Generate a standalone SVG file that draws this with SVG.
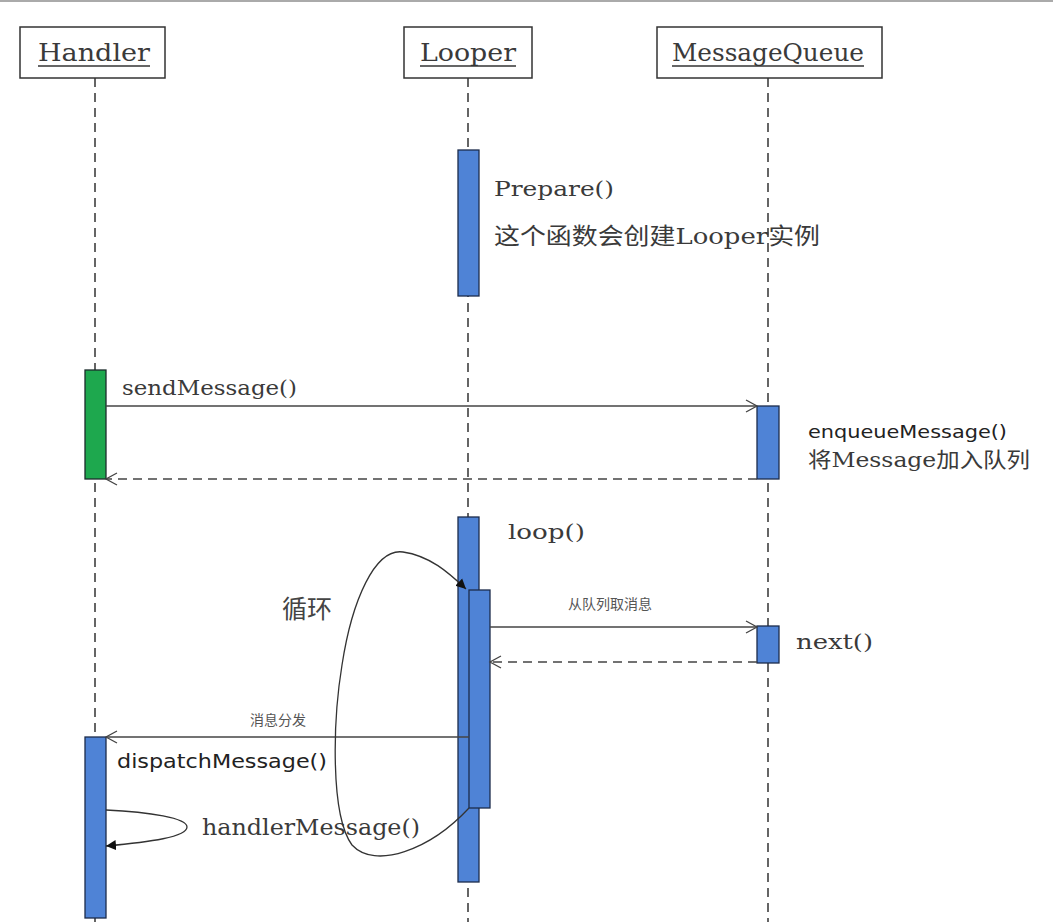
<svg xmlns="http://www.w3.org/2000/svg" width="1053" height="922" viewBox="0 0 1053 922">
<style>
.bg{fill:#ffffff}
.box{fill:#ffffff;stroke:#333;stroke-width:1.5}
.life{stroke:#333;stroke-width:1.5;stroke-dasharray:9,6;fill:none}
.act{fill:#4f83d6;stroke:#1c2c4c;stroke-width:1.3}
.actg{fill:#1ea84e;stroke:#1c2c2c;stroke-width:1.3}
.msg{stroke:#444;stroke-width:1.3;fill:none;marker-end:url(#open)}
.ret{stroke:#444;stroke-width:1.3;stroke-dasharray:9,6;fill:none;marker-end:url(#open)}
.curve{stroke:#333;stroke-width:1.3;fill:none;marker-end:url(#filled)}
.mono{font-family:"DejaVu Serif","Noto Sans CJK SC",serif;fill:#3a3a3a}
.sans{font-family:"DejaVu Sans","Noto Sans CJK SC",sans-serif;fill:#222}
.cjk{font-family:"Noto Sans CJK SC",sans-serif;fill:#555}
</style>
<defs>
<marker id="open" markerWidth="14" markerHeight="14" refX="12" refY="7" orient="auto" markerUnits="userSpaceOnUse">
<path d="M1,1 L12,7 L1,13" fill="none" stroke="#444" stroke-width="1.3"/>
</marker>
<marker id="filled" markerWidth="12" markerHeight="12" refX="10" refY="6" orient="auto" markerUnits="userSpaceOnUse">
<path d="M0,1 L10,6 L0,11 Z" fill="#111"/>
</marker>
</defs>
<rect class="bg" x="0" y="0" width="1053" height="922"/>
<line x1="0" y1="1" x2="1053" y2="1" stroke="#aaa" stroke-width="2"/>

<g id="lifelines">
<line class="life" x1="95" y1="78" x2="95" y2="922"/>
<line class="life" x1="468" y1="78" x2="468" y2="922"/>
<line class="life" x1="768" y1="78" x2="768" y2="922"/>
</g>

<g id="Handler">
<rect class="box" x="20" y="27" width="145" height="51"/>
<text class="mono" x="38" y="61" font-size="24" textLength="112" lengthAdjust="spacingAndGlyphs">Handler</text>
<line x1="38" y1="66" x2="150" y2="66" stroke="#333" stroke-width="1.5"/>
</g>
<g id="Looper">
<rect class="box" x="404" y="27" width="128" height="51"/>
<text class="mono" x="420" y="61" font-size="24" textLength="96" lengthAdjust="spacingAndGlyphs">Looper</text>
<line x1="420" y1="66" x2="516" y2="66" stroke="#333" stroke-width="1.5"/>
</g>
<g id="MessageQueue">
<rect class="box" x="657" y="27" width="225" height="51"/>
<text class="mono" x="672" y="61" font-size="24" textLength="192" lengthAdjust="spacingAndGlyphs">MessageQueue</text>
<line x1="672" y1="66" x2="864" y2="66" stroke="#333" stroke-width="1.5"/>
</g>

<g id="looper-prepare">
<rect class="act" x="458" y="150" width="21" height="146"/>
<text class="mono" x="494" y="196" font-size="21" textLength="120" lengthAdjust="spacingAndGlyphs">Prepare()</text>
<text class="mono" x="494" y="244" font-size="23" textLength="326" lengthAdjust="spacingAndGlyphs">这个函数会创建Looper实例</text>
</g>

<g id="handler-send">
<rect class="actg" x="85" y="370" width="21" height="109"/>
<text class="mono" x="122" y="395" font-size="21" textLength="175" lengthAdjust="spacingAndGlyphs">sendMessage()</text>
</g>

<g id="mq-enqueue">
<rect class="act" x="757" y="406" width="22" height="73"/>
<text class="sans" x="808" y="438" font-size="18" textLength="199" lengthAdjust="spacingAndGlyphs">enqueueMessage()</text>
<text class="mono" x="808" y="467" font-size="21" textLength="222" lengthAdjust="spacingAndGlyphs">将Message加入队列</text>
</g>

<g id="looper-loop">
<rect class="act" x="458" y="517" width="21" height="365"/>
<rect class="act" x="469" y="590" width="21" height="218"/>
<text class="mono" x="508" y="539" font-size="21" textLength="77" lengthAdjust="spacingAndGlyphs">loop()</text>
<text class="cjk" x="282" y="618" font-size="25" style="fill:#444">循环</text>
</g>

<g id="mq-next">
<rect class="act" x="757" y="626" width="22" height="37"/>
<text class="mono" x="796" y="649" font-size="21" textLength="77" lengthAdjust="spacingAndGlyphs">next()</text>
</g>

<g id="handler-dispatch">
<rect class="act" x="85" y="737" width="21" height="181"/>
<text class="sans" x="117" y="768" font-size="19" textLength="210" lengthAdjust="spacingAndGlyphs">dispatchMessage()</text>
<text class="mono" x="202" y="835" font-size="22" textLength="218" lengthAdjust="spacingAndGlyphs">handlerMessage()</text>
</g>

<g id="connectors">
<line class="msg" x1="106" y1="406" x2="757" y2="406"/>
<line class="ret" x1="757" y1="479" x2="106" y2="479"/>
<line class="msg" x1="490" y1="627" x2="757" y2="627"/>
<text class="cjk" x="568" y="609" font-size="14" style="fill:#555">从队列取消息</text>
<line class="ret" x1="757" y1="662" x2="490" y2="662"/>
<line class="msg" x1="469" y1="737" x2="106" y2="737"/>
<text class="cjk" x="250" y="725" font-size="14" style="fill:#555">消息分发</text>
<path class="curve" d="M469,808 C430,850 375,870 352,845 C330,815 333,720 342,665 C352,600 375,548 403,552 C430,556 448,572 466,589"/>
<path class="curve" d="M106,810 C150,812 187,818 187,827 C187,837 150,842 106,846"/>
</g>
</svg>
